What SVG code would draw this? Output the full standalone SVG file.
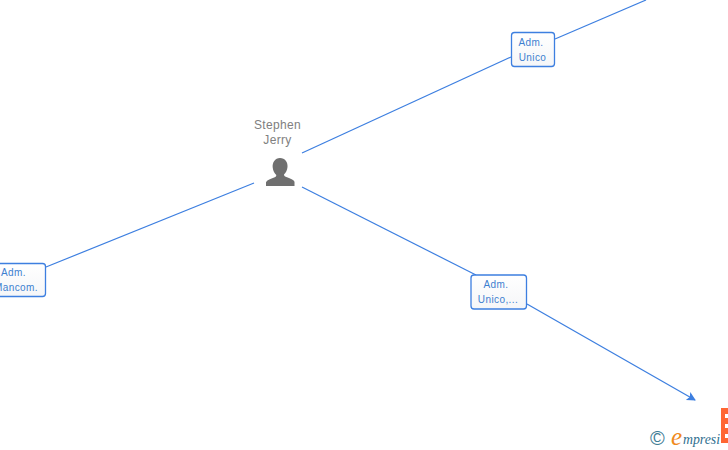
<svg xmlns="http://www.w3.org/2000/svg" width="728" height="450" viewBox="0 0 728 450">
<defs>
<linearGradient id="g" x1="0" y1="0" x2="0" y2="1"><stop offset="0" stop-color="#ffffff"/><stop offset="1" stop-color="#f5f6f8"/></linearGradient>
<marker id="arrow" markerWidth="10" markerHeight="10" refX="8" refY="4.5" orient="auto" markerUnits="userSpaceOnUse"><path d="M0 0L9 4.500L0 9L2 4.500Z" fill="#3d7fe0"/></marker>
</defs>
<style>
.c{fill:none;stroke:#3d7fe0;stroke-width:1.2}
.b{fill:url(#g);stroke:#3d7fe0;stroke-width:1.3}
.l{font-family:"Liberation Sans",Arial,sans-serif;font-size:10px;letter-spacing:.4px;fill:#3d7fd0;text-anchor:middle}
.n{font-family:"Liberation Sans",Arial,sans-serif;font-size:12px;letter-spacing:.35px;fill:#808080;text-anchor:middle}
</style>
<rect width="728" height="450" fill="#fff"/>
<g id="connectors">
<path class="c" d="M302 153L511 57"/>
<path class="c" d="M555 39L646 0"/>
<path class="c" d="M254 183L46 267"/>
<path class="c" d="M302 187L476 275"/>
<path class="c" d="M527 304L695 400" marker-end="url(#arrow)"/>
</g>
<g id="node-stephen">
<text class="n" x="277.500" y="129">Stephen</text>
<text class="n" x="277.500" y="144">Jerry</text>
<path fill="#6f6f6f" d="M280 158c5 0 8 4 7.500 9c-.3 3-1.500 5.500-3.500 7.500c0 1.500 1 2 3 2.700c3.500 1.200 6.500 2.300 7.500 4.500V186H266v-3.800c1-2.200 4-3.300 7.500-4.500c2-.7 2.800-1.200 2.800-2.700c-2-2-3.300-4.500-3.600-7.500c-.5-5 2.300-9.500 7.300-9.500Z"/>
</g>
<g id="node-unico">
<rect class="b" x="511.500" y="32.500" width="43" height="34" rx="3"/>
<text class="l" x="531" y="46">Adm.</text>
<text class="l" x="532.500" y="61">Unico</text>
</g>
<g id="node-mancom">
<rect class="b" x="-12.500" y="263.500" width="58" height="33" rx="3"/>
<text class="l" x="13.500" y="276">Adm.</text>
<text class="l" x="16" y="291">Mancom.</text>
</g>
<g id="node-unico2">
<rect class="b" x="471" y="275" width="55.500" height="34" rx="3"/>
<text class="l" x="496" y="288">Adm.</text>
<text class="l" x="498" y="303">Unico,...</text>
</g>
<g id="logo">
<text x="650" y="445" font-family="'Liberation Sans',Arial,sans-serif" font-size="20" fill="#3f7d95">©</text>
<text x="671" y="445" font-family="'Liberation Serif',serif" font-style="italic" font-size="25" fill="#f08a1d">e</text>
<text x="683" y="444" font-family="'Liberation Serif',serif" font-style="italic" font-size="14" textLength="37" lengthAdjust="spacingAndGlyphs" fill="#2f6f8f">mpresi</text>
<path fill="#ff6633" d="M721 408h7v6h-3v4h3v6h-3v4h3v6h-3v4h3v5h-7Z"/>
</g>
</svg>
